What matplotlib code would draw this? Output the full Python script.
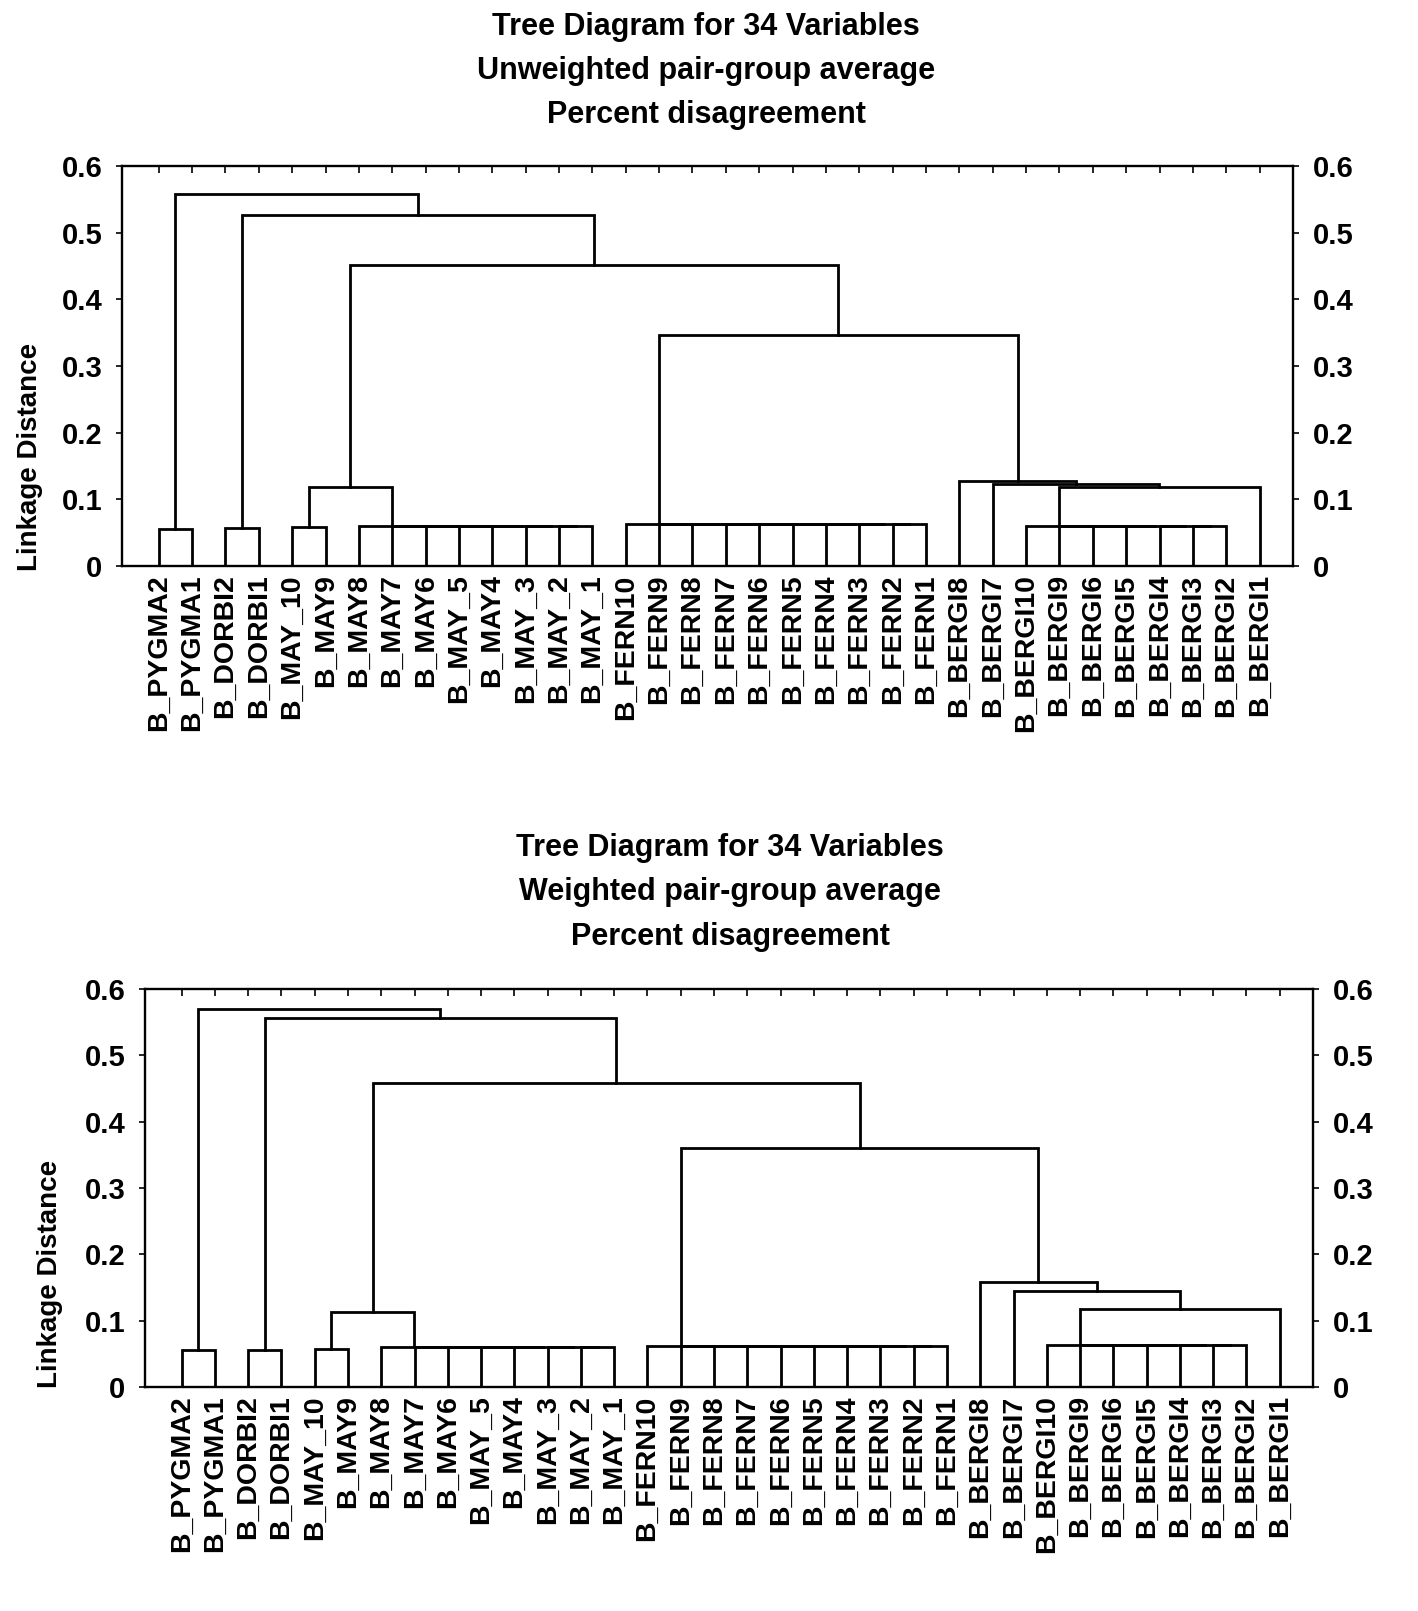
import matplotlib
matplotlib.use("Agg")
import matplotlib.pyplot as plt

plt.rcParams['font.family'] = ['Liberation Sans', 'DejaVu Sans']
plt.rcParams['font.weight'] = 'bold'

# ---------------- data ----------------
leaves = ["B_PYGMA2", "B_PYGMA1", "B_DORBI2", "B_DORBI1", "B_MAY_10", "B_MAY9",
          "B_MAY8", "B_MAY7", "B_MAY6", "B_MAY_5", "B_MAY4", "B_MAY_3", "B_MAY_2",
          "B_MAY_1", "B_FERN10", "B_FERN9", "B_FERN8", "B_FERN7", "B_FERN6",
          "B_FERN5", "B_FERN4", "B_FERN3", "B_FERN2", "B_FERN1", "B_BERGI8",
          "B_BERGI7", "B_BERGI10", "B_BERGI9", "B_BERGI6", "B_BERGI5", "B_BERGI4",
          "B_BERGI3", "B_BERGI2", "B_BERGI1"]

# merges: children are leaf names or "n<k>" (k = index of an earlier merge)
merge_left = ["B_PYGMA2", "B_DORBI2", "B_MAY_10",
              "B_MAY_2", "B_MAY_3", "B_MAY4", "B_MAY_5", "B_MAY6", "B_MAY7", "B_MAY8",
              "n2",
              "B_FERN2", "B_FERN3", "B_FERN4", "B_FERN5", "B_FERN6", "B_FERN7",
              "B_FERN8", "B_FERN9", "B_FERN10",
              "B_BERGI3", "B_BERGI4", "B_BERGI5", "B_BERGI6", "B_BERGI9", "B_BERGI10",
              "n25", "B_BERGI7", "B_BERGI8",
              "n19", "n10", "n1", "n0"]
merge_right = ["B_PYGMA1", "B_DORBI1", "B_MAY9",
               "B_MAY_1", "n3", "n4", "n5", "n6", "n7", "n8",
               "n9",
               "B_FERN1", "n11", "n12", "n13", "n14", "n15", "n16", "n17", "n18",
               "B_BERGI2", "n20", "n21", "n22", "n23", "n24",
               "B_BERGI1", "n26", "n27",
               "n28", "n29", "n30", "n31"]

# linkage heights: unweighted pair-group average (top chart)
height_unweighted = [0.055, 0.057, 0.058,
                     0.060, 0.060, 0.060, 0.060, 0.060, 0.060, 0.060,
                     0.118,
                     0.063, 0.063, 0.063, 0.063, 0.063, 0.063, 0.063, 0.063, 0.063,
                     0.060, 0.060, 0.060, 0.060, 0.060, 0.060,
                     0.118, 0.123, 0.127,
                     0.347, 0.452, 0.527, 0.558]

# linkage heights: weighted pair-group average (bottom chart)
height_weighted = [0.056, 0.056, 0.057,
                   0.060, 0.060, 0.060, 0.060, 0.060, 0.060, 0.060,
                   0.113,
                   0.062, 0.062, 0.062, 0.062, 0.062, 0.062, 0.062, 0.062, 0.062,
                   0.063, 0.063, 0.063, 0.063, 0.063, 0.063,
                   0.117, 0.145, 0.158,
                   0.360, 0.458, 0.556, 0.570]

titles_top = ["Tree Diagram for 34 Variables", "Unweighted pair-group average",
              "Percent disagreement"]
titles_bottom = ["Tree Diagram for 34 Variables", "Weighted pair-group average",
                 "Percent disagreement"]
y_ticks = [0, 0.1, 0.2, 0.3, 0.4, 0.5, 0.6]
y_tick_labels = ["0", "0.1", "0.2", "0.3", "0.4", "0.5", "0.6"]


def draw_tree(ax, heights):
    pos = {name: i + 1 for i, name in enumerate(leaves)}
    hgt = {name: 0.0 for name in leaves}
    for k, (a, b, h) in enumerate(zip(merge_left, merge_right, heights)):
        xa, xb = pos[a], pos[b]
        ax.plot([xa, xa, xb, xb], [hgt[a], h, h, hgt[b]], color="black",
                lw=2.0, solid_joinstyle="miter", solid_capstyle="projecting")
        node = "n%d" % k
        pos[node] = (xa + xb) / 2.0
        hgt[node] = h
    ax.set_xlim(-0.1, 35.0)
    ax.set_ylim(0, 0.6)
    ax.set_xticks(range(1, len(leaves) + 1), leaves, rotation=90,
                  fontsize=20.5, fontweight="bold")
    ax.tick_params(axis="x", bottom=False, top=True, labelbottom=True,
                   direction="in", length=5, width=1.2, pad=6)
    ax.set_yticks(y_ticks, y_tick_labels)
    ax.tick_params(axis="y", left=True, right=True, labelleft=True,
                   labelright=True, direction="out", length=4, width=1.2,
                   labelsize=21, pad=10)
    for lab in ax.get_yticklabels():
        lab.set_fontweight("bold")
    for sp in ax.spines.values():
        sp.set_linewidth(1.7)


fig = plt.figure(figsize=(14.18, 16.11), dpi=100)
W, H = 1418.0, 1611.0

ax1 = fig.add_axes([122 / W, 1 - 566 / H, (1293 - 122) / W, (566 - 166) / H])
draw_tree(ax1, height_unweighted)
ax2 = fig.add_axes([145 / W, 1 - 1387 / H, (1313 - 145) / W, (1387 - 989) / H])
draw_tree(ax2, height_weighted)

for t, yy in zip(titles_top, [27, 71, 115]):
    fig.text(706 / W, 1 - yy / H, t, ha="center", va="center",
             fontsize=22, fontweight="bold")
for t, yy in zip(titles_bottom, [848, 892, 937]):
    fig.text(730 / W, 1 - yy / H, t, ha="center", va="center",
             fontsize=22, fontweight="bold")

fig.text(30 / W, 1 - 457 / H, "Linkage Distance", rotation=90, ha="center",
         va="center", fontsize=20, fontweight="bold")
fig.text(50 / W, 1 - 1274 / H, "Linkage Distance", rotation=90, ha="center",
         va="center", fontsize=20, fontweight="bold")

fig.savefig("out.png", dpi=100, facecolor="white")
